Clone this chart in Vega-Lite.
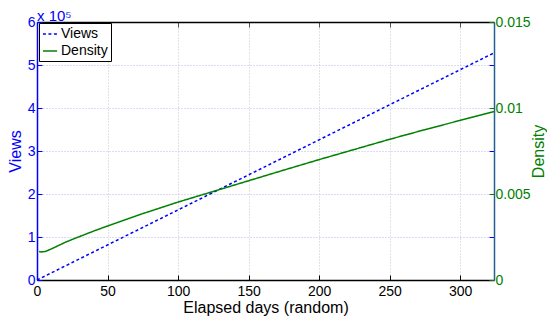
{
  "$schema": "https://vega.github.io/schema/vega-lite/v6.json",
  "width": 457,
  "height": 258,
  "autosize": "none",
  "padding": {"left": 37, "top": 22, "right": 53, "bottom": 40},
  "background": "white",
  "config": {
    "view": {"stroke": null},
    "font": "Liberation Sans",
    "legend": {
      "orient": "none",
      "legendX": 2,
      "legendY": 1,
      "title": null,
      "strokeColor": "#000000",
      "fillColor": "#ffffff",
      "padding": 3,
      "cornerRadius": 0,
      "symbolType": "stroke",
      "symbolSize": 200,
      "symbolStrokeWidth": 1.5,
      "labelFontSize": 14,
      "labelColor": "#000000",
      "labelOffset": 3,
      "rowPadding": 2
    }
  },
  "title": {
    "text": "x 10⁵",
    "anchor": "start",
    "frame": "group",
    "color": "#0000ff",
    "fontSize": 15,
    "fontWeight": "normal",
    "offset": -9
  },
  "datasets": {
    "views": [
      {"day": 0, "value": 0},
      {"day": 50, "value": 81500},
      {"day": 100, "value": 163000},
      {"day": 150, "value": 244500},
      {"day": 200, "value": 326000},
      {"day": 250, "value": 407500},
      {"day": 300, "value": 489000},
      {"day": 324, "value": 528100}
    ],
    "density": [
      {"day": 1.5, "value": 0.00166},
      {"day": 3, "value": 0.00163},
      {"day": 6, "value": 0.00166},
      {"day": 10, "value": 0.00180},
      {"day": 20, "value": 0.00219},
      {"day": 30, "value": 0.00252},
      {"day": 40, "value": 0.00284},
      {"day": 50, "value": 0.00314},
      {"day": 75, "value": 0.00386},
      {"day": 100, "value": 0.00453},
      {"day": 125, "value": 0.00515},
      {"day": 150, "value": 0.00577},
      {"day": 175, "value": 0.00639},
      {"day": 200, "value": 0.00700},
      {"day": 225, "value": 0.00759},
      {"day": 250, "value": 0.00818},
      {"day": 275, "value": 0.00874},
      {"day": 300, "value": 0.00928},
      {"day": 324, "value": 0.00979}
    ]
  },
  "layer": [
    {
      "data": {"name": "views"},
      "mark": {"type": "line", "strokeWidth": 1.5},
      "encoding": {
        "x": {
          "field": "day",
          "type": "quantitative",
          "scale": {"domain": [0, 324], "nice": false, "zero": false},
          "axis": {
            "orient": "bottom",
            "values": [0, 50, 100, 150, 200, 250, 300],
            "title": "Elapsed days (random)",
            "titleFontSize": 16,
            "titleFontWeight": "normal",
            "titleColor": "#000000",
            "titlePadding": 1,
            "labelFontSize": 14,
            "labelColor": "#000000",
            "labelPadding": 9,
            "tickSize": -5,
            "tickColor": "#000000",
            "domainColor": "#000000",
            "domainWidth": 1.5,
            "grid": true,
            "gridColor": "#c4c4c4",
            "gridDash": [1, 2],
            "labelFlush": false
          }
        },
        "y": {
          "field": "value",
          "type": "quantitative",
          "scale": {"domain": [0, 600000], "nice": false},
          "axis": {
            "orient": "left",
            "values": [0, 100000, 200000, 300000, 400000, 500000, 600000],
            "labelExpr": "datum.value / 100000",
            "title": "Views",
            "titleFontSize": 16,
            "titleFontWeight": "normal",
            "titleColor": "#0000ff",
            "titlePadding": 4,
            "labelFontSize": 14,
            "labelColor": "#0000ff",
            "labelPadding": 7,
            "tickSize": -5,
            "tickColor": "#0000ff",
            "domainColor": "#0000ff",
            "domainWidth": 1.5,
            "grid": true,
            "gridColor": "#b8b8ec",
            "gridDash": [1, 2],
            "labelFlush": false
          }
        },
        "color": {
          "datum": "Views",
          "scale": {"domain": ["Views", "Density"], "range": ["#0000ff", "#008000"]}
        },
        "strokeDash": {
          "datum": "Views",
          "scale": {"domain": ["Views", "Density"], "range": [[3, 2.5], [1, 0]]}
        }
      }
    },
    {
      "data": {"name": "density"},
      "mark": {"type": "line", "strokeWidth": 1.5},
      "encoding": {
        "x": {
          "field": "day",
          "type": "quantitative",
          "axis": {
            "orient": "top",
            "values": [0, 50, 100, 150, 200, 250, 300],
            "labels": false,
            "title": null,
            "grid": false,
            "tickSize": -5,
            "tickColor": "#555555",
            "domainColor": "#000000",
            "domainWidth": 1.5
          }
        },
        "y": {
          "field": "value",
          "type": "quantitative",
          "scale": {"domain": [0, 0.015], "nice": false},
          "axis": {
            "orient": "right",
            "values": [0, 0.0025, 0.005, 0.0075, 0.01, 0.0125, 0.015],
            "format": "~g",
            "labelExpr": "abs(round(datum.value * 200) - datum.value * 200) < 0.000001 ? datum.label : ''",
            "title": "Density",
            "titleAngle": 270,
            "titleFontSize": 16,
            "titleFontWeight": "normal",
            "titleColor": "#008000",
            "titlePadding": 16,
            "labelFontSize": 14,
            "labelColor": "#008000",
            "labelPadding": 6,
            "tickSize": -5,
            "tickColor": {
              "condition": {"test": "abs(round(datum.value * 200) - datum.value * 200) < 0.000001", "value": "#008000"},
              "value": "#0000ff"
            },
            "domainColor": "#24608f",
            "domainWidth": 1.5,
            "grid": false,
            "labelFlush": false
          }
        },
        "color": {"datum": "Density"},
        "strokeDash": {"datum": "Density"}
      }
    }
  ],
  "resolve": {"scale": {"y": "independent"}}
}
